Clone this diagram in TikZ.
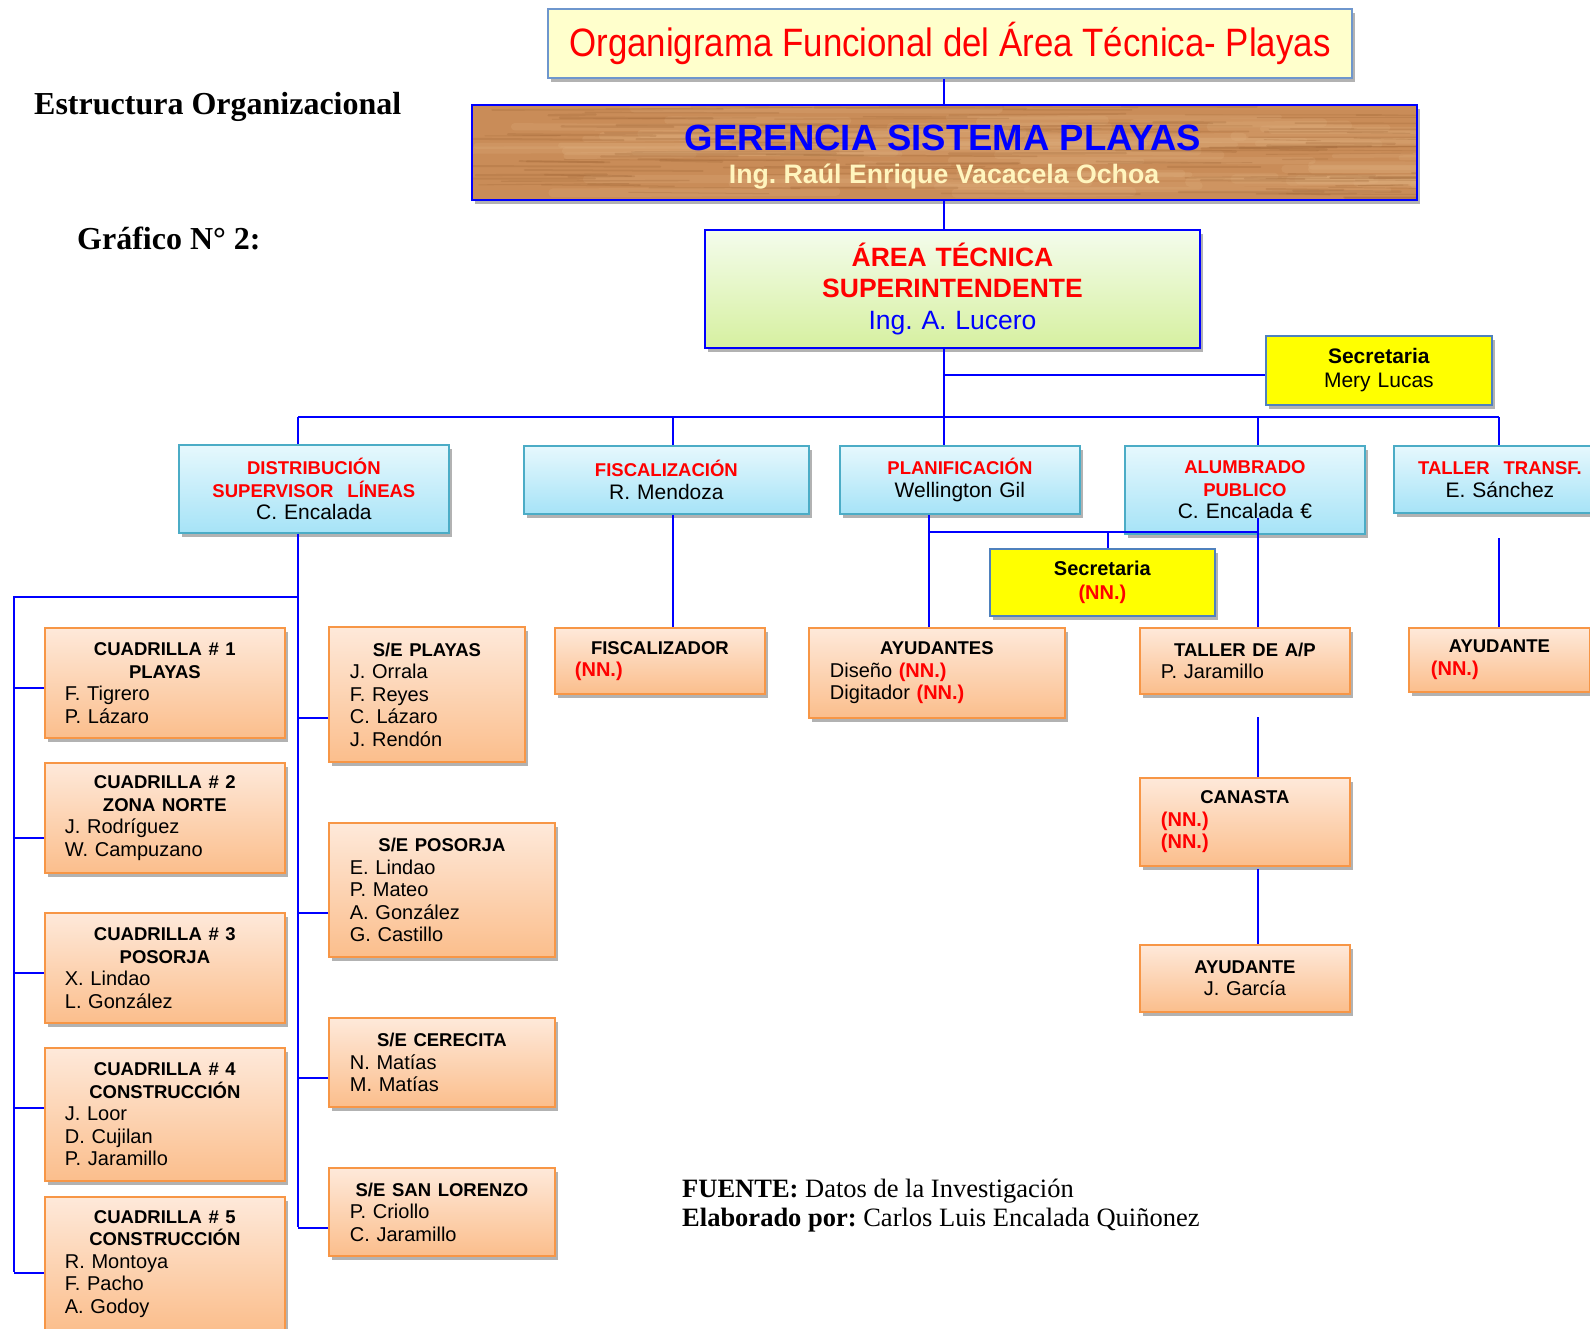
\documentclass[tikz,border=0pt]{standalone}
\usepackage{fontspec}
\usepackage{graphicx}
\setmainfont{Liberation Sans}
\newfontfamily\serifface{Liberation Serif}
\usetikzlibrary{shadows}
\frenchspacing

\definecolor{linkblue}{RGB}{0,0,255}
\definecolor{nnred}{RGB}{255,0,0}
\definecolor{secyellow}{RGB}{255,255,0}
\definecolor{titlefill}{RGB}{255,255,204}
\definecolor{titleedge}{RGB}{110,150,205}
\definecolor{woodbase}{RGB}{201,140,88}
\definecolor{wooddark}{RGB}{150,92,45}
\definecolor{woodlight}{RGB}{226,180,132}
\definecolor{namecream}{RGB}{255,245,190}
\definecolor{greentop}{RGB}{244,252,236}
\definecolor{greenbot}{RGB}{214,240,160}
\definecolor{cyantop}{RGB}{230,248,253}
\definecolor{cyanbot}{RGB}{166,227,247}
\definecolor{cyanedge}{RGB}{75,172,198}
\definecolor{orgtop}{RGB}{254,233,218}
\definecolor{orgbot}{RGB}{251,190,140}
\definecolor{orgedge}{RGB}{247,150,70}
\definecolor{secedge}{RGB}{79,129,189}

% header lines inside the boxes
\newcommand\boxhead[1]{{\fontsize{18.5pt}{22.5pt}\selectfont\bfseries #1}}
\newcommand\redhead[1]{\textcolor{nnred}{\boxhead{#1}}}
\newcommand\nnmark{\textcolor{nnred}{\textbf{(NN.)}}}

\tikzset{
  link/.style={draw=linkblue, line width=2pt},
  boxshadow/.style={drop shadow={shadow xshift=3pt, shadow yshift=-4pt, opacity=0.3, fill=black}},
  obox/.style={draw=orgedge, line width=1.8pt, top color=orgtop, bottom color=orgbot,
    anchor=north west, inner ysep=0pt, inner xsep=20pt, align=left,
    font=\fontsize{20pt}{22.5pt}\selectfont, boxshadow},
  cbox/.style={draw=cyanedge, line width=1.8pt, top color=cyantop, bottom color=cyanbot,
    anchor=north west, inner ysep=0pt, inner xsep=4pt, align=center,
    font=\fontsize{21pt}{22.5pt}\selectfont, boxshadow},
  ybox/.style={draw=secedge, line width=1.8pt, fill=secyellow,
    anchor=north west, inner ysep=0pt, inner xsep=4pt, align=center,
    font=\fontsize{21pt}{24pt}\selectfont, boxshadow},
}

\begin{document}
\begin{tikzpicture}[x=1pt, y=-1pt]
\useasboundingbox (0,0) rectangle (1590,1328);
\clip (0,0) rectangle (1590,1328);
\fill[white] (0,0) rectangle (1590,1328);

% ---------- page headings ----------
\node[anchor=base west, inner sep=0pt, font=\serifface\fontsize{32pt}{38pt}\selectfont\bfseries]
  (estructura) at (34,114.5) {Estructura Organizacional};
\node[anchor=base west, inner sep=0pt, font=\serifface\fontsize{32pt}{38pt}\selectfont\bfseries]
  (grafico) at (77,249.5) {Gráfico N° 2:};

% ---------- title ----------
\node[draw=titleedge, line width=2pt, fill=titlefill, anchor=north west, inner sep=0pt,
  minimum width=804pt, minimum height=69pt, boxshadow, text=nnred,
  font=\fontsize{39.6pt}{44pt}\selectfont] (title) at (547,8)
  {\scalebox{0.88}[1]{Organigrama Funcional del Área Técnica- Playas}};

% ---------- management (wood panel) ----------
\node[fill=woodbase, anchor=north west, inner sep=0pt, minimum width=945pt,
  minimum height=95pt, boxshadow] (ger) at (472,105) {};
\begin{scope}
  \clip (ger.north west) rectangle (ger.south east);
  \pgfmathsetseed{4}
  % broad light bands
  \foreach \i in {1,...,60}{
    \pgfmathsetmacro\yy{106+93*rnd}
    \pgfmathsetmacro\xx{440+980*rnd}
    \pgfmathsetmacro\ll{80+300*rnd}
    \pgfmathsetmacro\ww{4+6*rnd}
    \pgfmathsetmacro\dy{3*rnd-1.5}
    \draw[woodlight, opacity=0.22, line width=\ww pt, line cap=round] (\xx,\yy) -- ++(\ll,\dy);
  }
  % fine dark grain
  \foreach \i in {1,...,120}{
    \pgfmathsetmacro\yy{106+93*rnd}
    \pgfmathsetmacro\xx{440+980*rnd}
    \pgfmathsetmacro\ll{40+220*rnd}
    \pgfmathsetmacro\ww{0.8+1.8*rnd}
    \pgfmathsetmacro\dy{3*rnd-1.5}
    \draw[wooddark, opacity=0.22, line width=\ww pt, line cap=round] (\xx,\yy) -- ++(\ll,\dy);
  }
\end{scope}
\draw[linkblue, line width=2pt] (ger.north west) rectangle (ger.south east);
\node[anchor=base, inner sep=0pt, text=linkblue, font=\fontsize{36.5pt}{40pt}\selectfont\bfseries]
  (gertitle) at (943,150) {GERENCIA SISTEMA PLAYAS};
\node[anchor=base, inner sep=0pt, text=namecream, font=\fontsize{26.7pt}{30pt}\selectfont\bfseries]
  (gerboss) at (944,183.5) {Ing. Raúl Enrique Vacacela Ochoa};

% ---------- technical area ----------
\node[draw=linkblue, line width=2pt, top color=greentop, bottom color=greenbot,
  anchor=north west, minimum width=495pt, minimum height=118pt, text width=480pt,
  inner xsep=7.5pt, inner ysep=0pt, align=center, boxshadow,
  font=\fontsize{26.5pt}{31.5pt}\selectfont] (area) at (704,229)
  {\textcolor{nnred}{\textbf{ÁREA TÉCNICA}}\\\textcolor{nnred}{\textbf{SUPERINTENDENTE}}\\\textcolor{linkblue}{Ing. A. Lucero}};

\node[ybox, minimum width=226pt, minimum height=69pt, text width=218pt] (sec1) at (1265,335)
  {\textbf{Secretaria}\\Mery Lucas};

% ---------- departments ----------
\node[cbox, minimum width=270pt, minimum height=88pt, text width=262pt] (dist) at (178,444)
  {\redhead{DISTRIBUCIÓN}\\\redhead{SUPERVISOR\ \ LÍNEAS}\\C. Encalada};
\node[cbox, minimum width=285pt, minimum height=68pt, text width=277pt] (fisc) at (523,445)
  {\redhead{FISCALIZACIÓN}\\R. Mendoza};
\node[cbox, minimum width=240pt, minimum height=68pt, text width=232pt] (plan) at (839,445)
  {\redhead{PLANIFICACIÓN}\\Wellington Gil};
\node[cbox, minimum width=240pt, minimum height=88pt, text width=232pt] (alum) at (1124,445)
  {\redhead{ALUMBRADO}\\\redhead{PUBLICO}\\C. Encalada €};
\node[cbox, minimum width=212pt, minimum height=67pt, text width=204pt] (tall) at (1393,445)
  {\redhead{TALLER\ \ TRANSF.}\\E. Sánchez};

\node[ybox, minimum width=225pt, minimum height=67pt, text width=217pt,
  font=\fontsize{20pt}{23.5pt}\selectfont] (sec2) at (989,548)
  {\textbf{Secretaria}\\\nnmark};

% ---------- crews ----------
\node[obox, minimum width=240pt, minimum height=110pt, text width=200pt] (c1) at (44,627)
  {{\centering\boxhead{CUADRILLA \# 1}\\\boxhead{PLAYAS}\par}F. Tigrero\\P. Lázaro};
\node[obox, minimum width=240pt, minimum height=110pt, text width=200pt] (c2) at (44,762)
  {{\centering\boxhead{CUADRILLA \# 2}\\\boxhead{ZONA NORTE}\par}J. Rodríguez\\W. Campuzano};
\node[obox, minimum width=240pt, minimum height=110pt, text width=200pt] (c3) at (44,912)
  {{\centering\boxhead{CUADRILLA \# 3}\\\boxhead{POSORJA}\par}X. Lindao\\L. González};
\node[obox, minimum width=240pt, minimum height=133pt, text width=200pt] (c4) at (44,1047)
  {{\centering\boxhead{CUADRILLA \# 4}\\\boxhead{CONSTRUCCIÓN}\par}J. Loor\\D. Cujilan\\P. Jaramillo};
\node[obox, minimum width=240pt, minimum height=134pt, text width=200pt] (c5) at (44,1196)
  {{\centering\boxhead{CUADRILLA \# 5}\\\boxhead{CONSTRUCCIÓN}\par}R. Montoya\\F. Pacho\\A. Godoy};

% ---------- substations ----------
\node[obox, inner xsep=21pt, minimum width=196pt, minimum height=135pt, text width=154pt] (sep) at (328,626)
  {{\centering\boxhead{S/E PLAYAS}\par}J. Orrala\\F. Reyes\\C. Lázaro\\J. Rendón};
\node[obox, inner xsep=21pt, minimum width=226pt, minimum height=134pt, text width=184pt] (sepo) at (328,822)
  {{\centering\boxhead{S/E POSORJA}\par}E. Lindao\\P. Mateo\\A. González\\G. Castillo};
\node[obox, inner xsep=21pt, minimum width=226pt, minimum height=89pt, text width=184pt] (sece) at (328,1017)
  {{\centering\boxhead{S/E CERECITA}\par}N. Matías\\M. Matías};
\node[obox, inner xsep=21pt, minimum width=226pt, minimum height=88pt, text width=184pt] (sesl) at (328,1167)
  {{\centering\boxhead{S/E SAN LORENZO}\par}P. Criollo\\C. Jaramillo};

% ---------- other units ----------
\node[obox, minimum width=210pt, minimum height=66pt, text width=170pt] (fiscal) at (554,627)
  {{\centering\boxhead{FISCALIZADOR}\par}\nnmark};
\node[obox, inner xsep=21pt, minimum width=256pt, minimum height=90pt, text width=214pt] (ayud) at (808,627)
  {{\centering\boxhead{AYUDANTES}\par}Diseño \nnmark\\Digitador \nnmark};
\node[obox, inner xsep=21pt, minimum width=210pt, minimum height=66pt, text width=168pt] (tallerap) at (1139,627)
  {{\centering\boxhead{TALLER DE A/P}\par}P. Jaramillo};
\node[obox, inner xsep=22pt, minimum width=181pt, minimum height=64pt, text width=137pt] (ayudn) at (1408,627)
  {{\centering\boxhead{AYUDANTE}\par}\nnmark};
\node[obox, inner xsep=21pt, minimum width=210pt, minimum height=88pt, text width=168pt] (canasta) at (1139,777)
  {{\centering\boxhead{CANASTA}\par}\nnmark\\\nnmark};
\node[obox, inner xsep=21pt, minimum width=210pt, minimum height=67pt, text width=168pt] (garcia) at (1139,944)
  {{\centering\boxhead{AYUDANTE}\\J. García\par}};

% ---------- footer ----------
\node[anchor=base west, inner sep=0pt, font=\serifface\fontsize{26.5pt}{29pt}\selectfont]
  (fuente) at (682,1197) {\textbf{FUENTE:} Datos de la Investigación};
\node[anchor=base west, inner sep=0pt, font=\serifface\fontsize{26.5pt}{29pt}\selectfont]
  (elaborado) at (682,1226) {\textbf{Elaborado por:} Carlos Luis Encalada Quiñonez};

% ---------- connectors ----------
\coordinate (xmain) at (944,0);
\coordinate (busy) at (0,417);
\coordinate (secy) at (0,375);
\coordinate (xdist) at (298,0);
\coordinate (xfisc) at (673,0);
\coordinate (xplan) at (929,0);
\coordinate (xalum) at (1258,0);
\coordinate (xtall) at (1499,0);
\coordinate (xsec2) at (1108,0);
\coordinate (ltop) at (14,597);
\coordinate (lbot) at (14,1272);
\coordinate (rbot) at (298,1227);
\coordinate (py) at (0,532);
\coordinate (alumin) at (1258,518);
\coordinate (tin) at (1499,538);
\coordinate (cin) at (1258,717);
\coordinate (gin) at (1258,869);

\draw[link] (title.south -| xmain) -- (ger.north -| xmain);
\draw[link] (ger.south -| xmain) -- (area.north -| xmain);
\draw[link] (area.south -| xmain) -- (xmain |- busy);
\draw[link, line width=1.5pt] (xmain |- secy) -- (sec1.west |- secy);
\draw[link, line width=2.4pt] (xdist |- busy) -- (xtall |- busy);
\foreach \n/\x in {dist/xdist, fisc/xfisc, plan/xmain, alum/xalum, tall/xtall}
  \draw[link] (\x |- busy) -- (\n.north -| \x);

% distribution tree
\draw[link] (dist.south -| xdist) -- (rbot);
\draw[link] (xdist |- ltop) -- (ltop) -- (lbot);
\draw[link] ([yshift=-5pt]c1.west) -- +(-30,0);
\draw[link] ([yshift=-20pt]c2.west) -- +(-30,0);
\draw[link] ([yshift=-5pt]c3.west) -- +(-30,0);
\draw[link] ([yshift=6.5pt]c4.west) -- +(-30,0);
\draw[link] ([yshift=-9pt]c5.west) -- +(-30,0);
\draw[link] ([yshift=-23.5pt]sep.west) -- +(-30,0);
\draw[link] ([yshift=-23pt]sepo.west) -- +(-30,0);
\draw[link] ([yshift=-15.5pt]sece.west) -- +(-30,0);
\draw[link] ([yshift=-16pt]sesl.west) -- +(-30,0);

% remaining branches
\draw[link, line width=1.6pt] (fisc.south -| xfisc) -- (fiscal.north -| xfisc);
\draw[link] (plan.south -| xplan) -- (ayud.north -| xplan);
\draw[link] (xplan |- py) -- (xalum |- py);
\draw[link] (xsec2 |- py) -- (sec2.north -| xsec2);
\draw[link] (alumin) -- (tallerap.north -| alumin);
\draw[link, line width=1.6pt] (tin) -- (ayudn.north -| tin);
\draw[link, line width=1.5pt] (cin) -- (canasta.north -| cin);
\draw[link, line width=1.5pt] (gin) -- (garcia.north -| gin);
\end{tikzpicture}
\end{document}
